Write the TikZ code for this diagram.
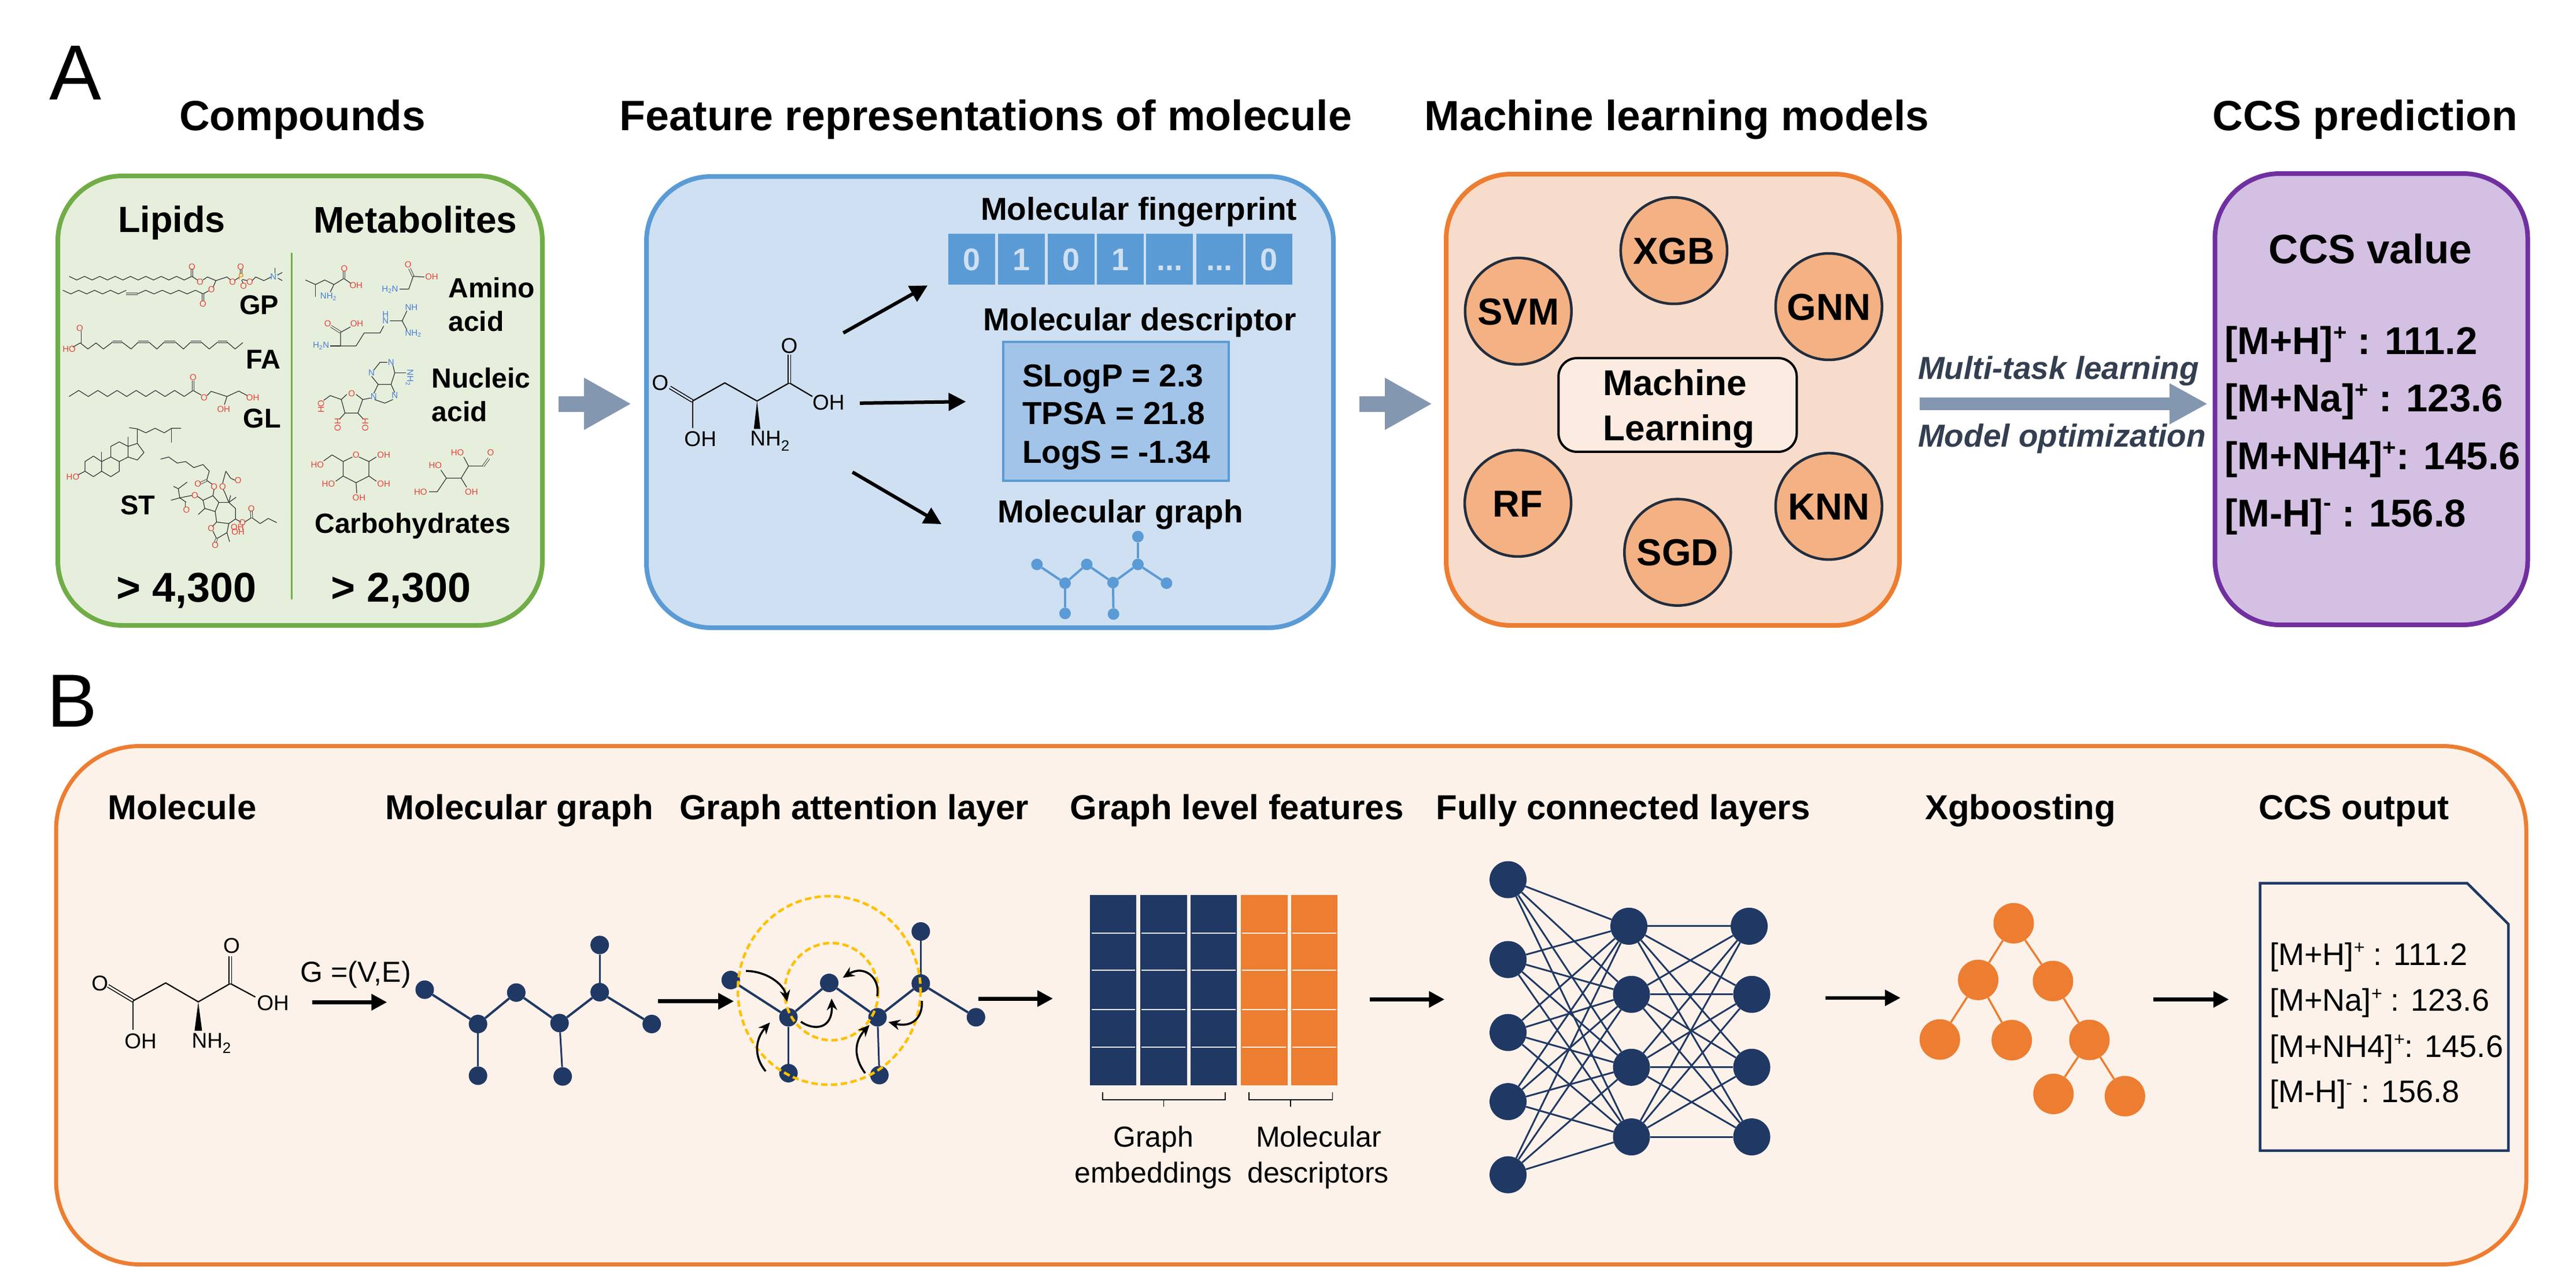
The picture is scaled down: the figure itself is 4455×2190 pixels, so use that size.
\documentclass[tikz,border=0pt]{standalone}
\usepackage{fontspec}
\usepackage{graphicx}
\usetikzlibrary{arrows.meta}
\setmainfont{Liberation Sans}
\definecolor{grnbg}{HTML}{E5EFDC}\definecolor{grnln}{HTML}{70AD47}
\definecolor{blubg}{HTML}{CFE0F2}\definecolor{bluln}{HTML}{5B9BD5}\definecolor{descbg}{HTML}{A2C4E8}
\definecolor{orgbg}{HTML}{F8DCCB}\definecolor{orgln}{HTML}{ED7D31}\definecolor{cirbg}{HTML}{F4B183}\definecolor{cirln}{HTML}{222E3E}
\definecolor{purbg}{HTML}{D3C0E3}\definecolor{purln}{HTML}{7030A0}
\definecolor{pbbg}{HTML}{FCF2E9}\definecolor{grey}{HTML}{8497B0}\definecolor{navy}{HTML}{203864}
\definecolor{dktxt}{HTML}{333F50}\definecolor{yel}{HTML}{FFC000}
\definecolor{atr}{HTML}{E8403A}\definecolor{atb}{HTML}{4A7BD8}\definecolor{bond}{HTML}{333333}\definecolor{boxbg}{HTML}{FBEBE1}
\newcommand\lab[6]{\node[inner sep=0pt,text height={0.716*#4*1pt},text depth=0pt,font=\fontsize{#4}{#4}\selectfont,#5] (#1) at (#2,#3) {#6};}
\newcommand\blab[6]{\lab{#1}{#2}{#3}{#4}{#5}{\bfseries #6}}
\newcommand\up[1]{\raisebox{.36em}{\scalebox{.6}{#1}}}
\newcommand\upm[1]{\raisebox{.42em}{\scalebox{.6}{#1}}}
\newcommand\fpdots{...}
\newcounter{atm}
\newcommand\atmfont{\fontsize{15}{15}\selectfont}
\newcommand\atm[4][]{\stepcounter{atm}\node[inner sep=0pt,font=\atmfont,text=#3,#1] (atom\theatm) at (#2) {#4};}
\newcommand\zig[5]{\draw[mol] (#1,#2) \foreach \i in {1,...,#3}{ -- ++(#4,{(#5)*(2*mod(\i,2)-1)}) };}
\tikzset{
 panel/.style n args={2}{draw=#1,fill=#2,line width=8pt,rounded corners=112pt,inner sep=0pt,outer sep=0pt},
 mol/.style={draw=bond,line width=1.2pt,line join=round},
 mold/.style={mol,double=grnbg,double distance=2.4pt,line width=.9pt},
 bigmol/.style={draw=black,line width=2.2pt,line join=round},
 bigdbl/.style={draw=black,double=blubg,double distance=3pt,line width=1.6pt},
 blockarr/.style={draw=grey,line width=27pt,-{Triangle[length=82pt,width=84pt]}},
 arr/.style={draw=black,line width=6pt,-{Triangle[length=30pt,width=30pt]}},
 arrb/.style={draw=black,line width=7pt,-{Triangle[length=27pt,width=27pt]}},
 fpbox/.style={fill=bluln,minimum width=81pt,minimum height=88pt,inner sep=0pt,text=blubg,text height=39pt,text depth=0pt,font=\fontsize{54}{54}\selectfont\bfseries},
 mlc/.style={circle,draw=cirln,fill=cirbg,line width=4.5pt,minimum size=184pt,inner sep=0pt,text height=46.5pt,text depth=0pt,font=\fontsize{65}{65}\selectfont\bfseries},
 vtxb/.style={circle,fill=bluln,minimum size=20pt,inner sep=0pt},
 edgeb/.style={draw=bluln,line width=4pt},
 vtx/.style={circle,fill=navy,minimum size=32pt,inner sep=0pt},
 edgen/.style={draw=navy,line width=4pt},
 nn/.style={circle,fill=navy,minimum size=64pt,inner sep=0pt},
 nne/.style={draw=navy,line width=3pt},
 tre/.style={circle,fill=orgln,minimum size=70pt,inner sep=0pt},
 tree/.style={draw=orgln,line width=3.5pt},
 yc/.style={draw=yel,line width=4.5pt,dash pattern=on 11pt off 6pt},
 cur/.style={draw=black,line width=3.5pt,-{Stealth[length=20pt,width=18pt]}},
}
\begin{document}
\begin{tikzpicture}[x=1pt,y=-1pt]
\useasboundingbox (0,0) rectangle (4455,2190);
% titles
\lab{tA}{131}{124}{135}{}{A}
\lab{tB}{125}{1210}{130}{}{B}
\blab{h1}{523}{199}{73}{}{Compounds}
\blab{h2}{1705}{199}{73.5}{}{Feature representations of molecule}
\blab{h3}{2900}{199}{73}{}{Machine learning models}
\blab{h4}{4090}{199}{73}{}{CCS prediction}
% panels
\node[panel={grnln}{grnbg},minimum width=838pt,minimum height=777pt] (green) at (519,692.5) {};
\node[panel={bluln}{blubg},minimum width=1188pt,minimum height=780pt] (blue) at (1712,695) {};
\node[panel={orgln}{orgbg},minimum width=784pt,minimum height=780pt] (ml) at (2893,691) {};
\node[panel={purln}{purbg},minimum width=541pt,minimum height=780pt] (pur) at (4101,690) {};
\node[panel={orgln}{pbbg},line width=7pt,rounded corners=145pt,minimum width=4272pt,minimum height=896pt,anchor=east] (pb) at (4369,1737.5) {};
% block arrows
\coordinate (ba1s) at (966,698); \coordinate (ba1e) at (1092,698);
\coordinate (ba2s) at (2351,698); \coordinate (ba2e) at (2477,698);
\draw[blockarr] (ba1s) -- (ba1e);
\draw[blockarr] (ba2s) -- (ba2e);
\coordinate (ba3s) at (3320,698); \coordinate (ba3e) at (3818,698);
\draw[draw=grey,line width=22pt,-{Triangle[length=66pt,width=66pt]}] (ba3s) -- (ba3e);
\node[inner sep=0pt,text height=39.4pt,text depth=0pt,text=dktxt,font=\fontsize{55}{55}\selectfont\bfseries\itshape] (mtl) at (3560,636) {Multi-task learning};
\node[inner sep=0pt,text height=39.4pt,text depth=0pt,text=dktxt,font=\fontsize{55}{55}\selectfont\bfseries\itshape] (mop) at (3566,753) {Model optimization};
% ---------- green
\begin{scope}[shift={(80,280)},x=0.6378pt,y=-0.523pt]
\blab{lip}{340}{190}{63}{}{Lipids}
\blab{met}{1001}{190}{64}{}{Metabolites}
\draw[draw=grnln,line width=3pt] (666,300) -- (666,1445);
\blab{gp}{577}{472}{47}{}{GP}
\blab{fa}{588}{652}{47}{}{FA}
\blab{gl}{585}{847}{47}{}{GL}
\blab{st}{248}{1133}{47}{}{ST}
\blab{am1}{1090}{415}{48}{anchor=west}{Amino}
\blab{am2}{1090}{527}{48}{anchor=west}{acid}
\blab{nu1}{1045}{714}{48}{anchor=west}{Nucleic}
\blab{nu2}{1045}{825}{48}{anchor=west}{acid}
\blab{car}{994}{1193}{48}{}{Carbohydrates}
\blab{n1}{380}{1405}{72}{}{> 4,300}
\blab{n2}{962}{1405}{72}{}{> 2,300}
% GP
\zig{62}{378}{16}{20.8}{12}
\draw[mold] (395,378) -- (395,352);
\draw[mol] (395,378) -- (410,390);
\draw[mol] (425,390) -- (437,380) -- (460,392) -- (490,380) -- (500,390);
\draw[mol] (510,392) -- (522,382);
\draw[mold] (528,370) -- (528,354);
\draw[mol] (531,388) -- (545,392);\draw[mol] (530,390) -- (534,402);
\draw[mol] (558,392) -- (568,380) -- (590,392) -- (610,380);
\draw[mol] (620,368) -- (620,350);\draw[mol] (628,373) -- (640,365);\draw[mol] (628,384) -- (640,392);
\draw[mol] (460,392) -- (452,415);
\zig{45}{424}{8}{21.5}{12}
\draw[mold] (217,436) -- (247,436);
\draw[mol] (247,436) \foreach \i in {1,...,7}{ -- ++(22.5,{12*(1-2*mod(\i,2))}) };
\draw[mol] (405,424) -- (425,436) -- (440,426);
\draw[mold] (425,436) -- (425,460);
\atm{395,346}{atr}{O}\atm{417,396}{atr}{O}\atm{505,396}{atr}{O}\atm{528,380}{orange}{P}\atm{527,346}{atr}{O}\atm{535,409}{atr}{O}\atm{552,396}{atr}{O}\atm{620,379}{atb}{N\up{+}}\atm{448,421}{atr}{O}\atm{425,469}{atr}{O}
% FA
\draw[mold] (92,598) -- (92,558);
\draw[mol] (72,612) -- (92,598) -- (113,618) -- (135,598) -- (155,618) -- (180,595);
\draw[mold] (180,595) -- (205,595);
\draw[mol] (205,595) -- (230,618) -- (250,595);\draw[mold] (250,595) -- (278,595);
\draw[mol] (278,595) -- (300,618) -- (320,595);\draw[mold] (320,595) -- (350,595);
\draw[mol] (350,595) -- (372,618) -- (392,595);\draw[mold] (392,595) -- (420,595);
\draw[mol] (420,595) -- (442,618) -- (465,595);\draw[mold] (465,595) -- (490,595);
\draw[mol] (490,595) -- (512,618) -- (533,597);
\atm{91,549}{atr}{O}\atm{62,618}{atr}{HO}
% GL
\zig{62}{775}{12}{26}{-20}
\draw[mol] (374,775) -- (398,755) -- (420,770);
\draw[mold] (398,755) -- (398,722);
\draw[mol] (436,772) -- (447,758) -- (490,775) -- (522,757) -- (545,772);
\draw[mol] (490,775) -- (483,802);
\atm{398,712}{atr}{O}\atm{428,778}{atr}{O}\atm{560,778}{atr}{OH}\atm{481,818}{atr}{OH}
% cholesterol
\draw[mol] (105,990) -- (128,972) -- (150,990) -- (150,1022) -- (128,1040) -- (105,1022) -- cycle;
\draw[mol] (150,990) -- (175,975) -- (198,990) -- (198,1022) -- (175,1040) -- (150,1022);
\draw[mol] (175,975) -- (175,940) -- (198,925) -- (222,940) -- (222,975) -- (198,990);
\draw[mol] (222,940) -- (247,930) -- (265,960) -- (247,985) -- (222,975);
\draw[mol] (150,990) -- (150,958);\draw[mol] (222,940) -- (222,908);
\draw[mol] (247,930) -- (247,882) -- (225,878);
\draw[mol] (247,882) -- (270,895) -- (295,880) -- (320,895) -- (340,880) -- (365,880);\draw[mol] (340,880) -- (340,928);
\draw[mol] (85,1035) -- (105,1022);
\atm{72,1041}{atr}{HO}
% large molecule
\draw[mol] (310,982) -- (332,975) -- (355,995) -- (378,990) -- (400,1010) -- (425,1000) -- (442,1022) -- (435,1052);
\draw[mold] (435,1052) -- (418,1062);
\draw[mol] (435,1052) -- (450,1065);\draw[mol] (455,1082) -- (452,1103);
\draw[mol] (425,1118) -- (452,1103) -- (468,1125) -- (458,1155) -- (430,1145) -- cycle;
\draw[mol] (430,1145) -- (412,1165);\draw[mol] (425,1118) -- (410,1105);
\draw[mol] (395,1102) -- (362,1110) -- (358,1080) -- (382,1058);\draw[mol] (358,1080) -- (345,1072);
\draw[mol] (362,1110) -- (338,1118);\draw[mol] (362,1110) -- (380,1125);\draw[mold] (380,1125) -- (380,1142);
\draw[mol] (468,1125) -- (495,1125) -- (513,1145) -- (513,1180) -- (495,1195) -- (462,1190) -- (458,1155);
\draw[mol] (495,1125) -- (485,1095) -- (480,1082);\draw[mol] (478,1062) -- (487,1022) -- (500,1045) -- (512,1052);
\draw[mol] (495,1125) -- (515,1108);\draw[mol] (495,1125) -- (500,1102);
\draw[mol] (513,1180) -- (528,1190);\draw[mol] (538,1190) -- (557,1175) -- (580,1195) -- (602,1178) -- (625,1192);
\draw[mold] (557,1175) -- (556,1152);
\draw[mol] (462,1190) -- (450,1205);\draw[mol] (495,1195) -- (490,1225) -- (462,1245) -- (452,1220);\draw[mol] (490,1225) -- (497,1255);
\draw[mold] (462,1245) -- (458,1258);
\atm{411,1063}{atr}{O}\atm{455,1073}{atr}{O}\atm{478,1073}{atr}{O}\atm{520,1052}{atr}{O}\atm{403,1102}{atr}{O}\atm{380,1150}{atr}{O}\atm{532,1192}{atr}{O}\atm{556,1145}{atr}{O}\atm{447,1210}{atr}{O}\atm{458,1266}{atr}{O}\atm{518,1208}{atr}{OH}\atm{520,1222}{atr}{OH}
% leucine
\draw[mol] (703,390) -- (730,405) -- (755,390) -- (780,405) -- (807,385) -- (827,402);
\draw[mol] (730,405) -- (730,445);\draw[mold] (807,385) -- (807,362);\draw[mol] (780,405) -- (770,430);
\atm{808,352}{atr}{O}\atm{840,407}{atr}{OH}\atm{765,445}{atb}{NH\textsubscript{2}}
% glycine
\draw[mold] (995,378) -- (985,352);
\draw[mol] (1025,380) -- (995,378) -- (983,420) -- (958,420);
\atm{981,340}{atr}{O}\atm{1045,380}{atr}{OH}\atm{932,421}{atb}{H\textsubscript{2}N}
% arginine
\draw[mold] (798,563) -- (772,543);
\draw[mol] (825,545) -- (798,563) -- (798,608) -- (840,608) -- (862,565) -- (905,565) -- (915,542);
\draw[mol] (770,608) -- (798,608);\draw[mol] (932,525) -- (965,525) -- (978,492);\draw[mol] (965,525) -- (978,555);
\atm{763,535}{atr}{O}\atm{842,535}{atr}{OH}\atm{745,608}{atb}{H\textsubscript{2}N}\atm{920,503}{atb}{H}\atm{920,525}{atb}{N}\atm{990,481}{atb}{NH}\atm{995,567}{atb}{NH\textsubscript{2}}
% adenosine
\draw[mol] (882,708) -- (900,735) -- (935,735) -- (945,697) -- (940,672);\draw[mol] (925,662) -- (905,662) -- (888,688);
\draw[mol] (900,735) -- (888,765);\draw[mol] (935,735) -- (945,762);\draw[mol] (890,785) -- (918,797) -- (940,785);
\draw[mol] (945,697) -- (975,697);\draw[mol] (880,780) -- (858,785);
\draw[mol] (815,768) -- (800,785) -- (810,830) -- (845,830) -- (858,785) -- (840,768);
\draw[mol] (800,785) -- (770,772) -- (752,788);\draw[mol] (810,830) -- (795,850);\draw[mol] (845,830) -- (860,850);
\atm{882,697}{atb}{N}\atm{935,662}{atb}{N}\atm{888,775}{atb}{N}\atm{945,772}{atb}{N}\atm[rotate=270]{985,712}{atb}{NH\textsubscript{2}}\atm{828,765}{atr}{O}\atm[rotate=90]{745,808}{atr}{HO}\atm[rotate=90]{790,868}{atr}{OH}\atm[rotate=90]{865,868}{atr}{OH}
% glucose
\draw[mol] (848,975) -- (875,990) -- (875,1038) -- (840,1060) -- (805,1038) -- (805,990) -- (830,975);
\draw[mol] (805,990) -- (775,968) -- (752,988);\draw[mol] (875,990) -- (895,975);\draw[mol] (875,1038) -- (895,1055);\draw[mol] (840,1060) -- (842,1095);\draw[mol] (805,1038) -- (785,1055);
\atm{840,968}{atr}{O}\atm{915,968}{atr}{OH}\atm{915,1063}{atr}{OH}\atm{848,1110}{atr}{OH}\atm{765,1063}{atr}{HO}\atm{735,1000}{atr}{HO}
% ribose
\draw[mol] (1038,1090) -- (1060,1090) -- (1085,1045) -- (1125,1045) -- (1145,1005) -- (1185,1005);
\draw[mold] (1185,1005) -- (1200,980);
\draw[mol] (1145,1005) -- (1132,975);\draw[mol] (1085,1045) -- (1070,1018);\draw[mol] (1125,1045) -- (1140,1075);
\atm{1205,960}{atr}{O}\atm{1115,960}{atr}{HO}\atm{1055,1003}{atr}{HO}\atm{1015,1090}{atr}{HO}\atm{1153,1090}{atr}{OH}
\end{scope}
% ---------- blue
\begin{scope}[shift={(1090,280)},x=0.7974pt,y=-0.523pt]
\blab{bt1}{1103}{155}{55}{}{Molecular fingerprint}
\blab{bt2}{1105}{520}{55}{}{Molecular descriptor}
\blab{bt3}{1063}{1155}{55}{}{Molecular graph}
\foreach \k/\x/\t in {1/741/0,2/848.5/1,3/956/0,4/1063/1,5/1170/\fpdots,6/1278/\fpdots,7/1385/0}
  \node[fpbox] (fp\k) at (\x,321) {\t};
\node[draw=bluln,fill=descbg,line width=4pt,minimum width=390pt,minimum height=240pt,inner sep=0pt] (desc) at (1054,825) {};
\blab{d1}{850}{705}{55}{anchor=west}{SLogP = 2.3}
\blab{d2}{850}{830}{55}{anchor=west}{TPSA = 21.8}
\blab{d3}{850}{958}{55}{anchor=west}{LogS = -1.34}
\coordinate (m1s) at (462,565);\coordinate (m1e) at (645,408);
\coordinate (m2s) at (498,797);\coordinate (m2e) at (728,792);
\coordinate (m3s) at (482,1025);\coordinate (m3e) at (675,1197);
\draw[arr] (m1s) -- (m1e);\draw[arr] (m2s) -- (m2e);\draw[arr] (m3s) -- (m3e);
\foreach \n/\p in {a/{882,1330},b/{943,1392},c/{990,1330},d/{1047,1390},e/{1101,1330},f/{1101,1238},g/{1163,1392},h/{943,1492},i/{1048,1494}}
  \node[vtxb] (mg\n) at (\p) {};
\foreach \u/\v in {a/b,b/c,c/d,d/e,e/f,e/g,b/h,d/i}
  \draw[edgeb] (mg\u) -- (mg\v);
\renewcommand\atmfont{\fontsize{37}{37}\selectfont}
\draw[bigdbl] (135,790) -- (86,745);
\draw[bigmol] (135,790) -- (135,880);
\draw[bigmol] (135,790) -- (205,730) -- (275,790) -- (345,730) -- (395,775);
\draw[bigdbl] (345,730) -- (345,636);
\fill[black] (275,790) -- (268,882) -- (282,882) -- cycle;
\atm{65,730}{black}{O}\atm{345,607}{black}{O}\atm{430,795}{black}{OH}\atm{152,915}{black}{OH}\atm{303,922}{black}{NH\textsubscript{2}}
\end{scope}
% ---------- ML
\begin{scope}[shift={(2340,280)},x=0.6378pt,y=-0.523pt]
\node[mlc] (xgb) at (870,293) {XGB};
\node[mlc] (svm) at (448,493) {SVM};
\node[mlc] (gnn) at (1290,478) {GNN};
\node[mlc] (rf) at (447,1128) {RF};
\node[mlc] (sgd) at (880,1290) {SGD};
\node[mlc] (knn) at (1290,1138) {KNN};
\node[draw=black,fill=boxbg,line width=4pt,rounded corners=32pt,minimum width=412pt,minimum height=162pt,inner sep=0pt] (mlbox) at (880,803) {};
\blab{ml1}{678}{730}{62}{anchor=west}{Machine}
\blab{ml2}{678}{878}{62}{anchor=west}{Learning}
\end{scope}
% ---------- CCS value
\begin{scope}[shift={(3250,280)},x=0.7653pt,y=-0.523pt]
\blab{cv}{1110}{287}{71}{}{CCS value}
\blab{i1}{780}{590}{67}{anchor=west}{[M+H]\up{+} : 111.2}
\blab{i2}{780}{780}{67}{anchor=west}{[M+Na]\up{+} : 123.6}
\blab{i3}{780}{970}{67}{anchor=west}{[M+NH4]\up{+}: 145.6}
\blab{i4}{780}{1160}{67}{anchor=west}{[M-H]\upm{-} : 156.8}
\end{scope}
% ---------- panel B headers
\blab{ph1}{315}{1395}{60}{}{Molecule}
\blab{ph2}{898}{1395}{60}{}{Molecular graph}
\blab{ph3}{1477}{1395}{60}{}{Graph attention layer}
\blab{ph4}{2139}{1395}{60}{}{Graph level features}
\blab{ph5}{2807}{1395}{60}{}{Fully connected layers}
\blab{ph6}{3494}{1395}{60}{}{Xgboosting}
\blab{ph7}{4071}{1395}{60}{}{CCS output}
% ---------- panel B molecule & graphs
\begin{scope}[shift={(100,1500)},x=1.0846pt,y=-0.3333pt]
\renewcommand\atmfont{\fontsize{37}{37}\selectfont}
\tikzset{bigdbl/.style={draw=black,double=pbbg,double distance=3pt,line width=1.6pt}}
\draw[bigdbl] (120,690) -- (80,612);
\draw[bigmol] (120,690) -- (120,840);
\draw[bigmol] (120,690) -- (172,597) -- (224,695) -- (275,600) -- (315,670);
\draw[bigdbl] (275,600) -- (275,458);
\fill[black] (224,695) -- (218,845) -- (230,845) -- cycle;
\atm{67,600}{black}{O}\atm{277,403}{black}{O}\atm{343,700}{black}{OH}\atm{132,900}{black}{OH}\atm{245,910}{black}{NH\textsubscript{2}}
\lab{gve}{475}{540}{50}{}{G =(V,E)}
\coordinate (b1s) at (406,697);\coordinate (b1e) at (525,697);
\draw[arrb] (b1s) -- (b1e);
\foreach \n/\p in {a/{585,632},b/{670,810},c/{731,647},d/{800,805},e/{864,645},f/{864,400},g/{947,810},h/{670,1078},i/{805,1082}}
  \node[vtx] (ga\n) at (\p) {};
\foreach \u/\v in {a/b,b/c,c/d,d/e,e/g}
  \draw[edgen] (ga\u) -- (ga\v);
\foreach \u/\v in {e/f,b/h,d/i}
  \draw[edgen,line width=3pt] (ga\u) -- (ga\v);
\coordinate (b2s) at (957,692);\coordinate (b2e) at (1078,692);
\draw[arrb] (b2s) -- (b2e);
\foreach \n/\p in {a/{1073,582},b/{1165,775},c/{1230,597},d/{1307,775},e/{1376,600},f/{1376,330},g/{1464,775},h/{1165,1065},i/{1310,1075}}
  \node[vtx] (gb\n) at (\p) {};
\foreach \u/\v in {a/b,b/c,c/d,d/e,e/g}
  \draw[edgen] (gb\u) -- (gb\v);
\foreach \u/\v in {e/f,b/h,d/i}
  \draw[edgen,line width=3pt] (gb\u) -- (gb\v);
\end{scope}
\draw[yc] (1434,1712) ellipse [x radius=158,y radius=163];
\draw[yc] (1438,1714) ellipse [x radius=81,y radius=84];
\begin{scope}[shift={(1150,1600)},x=0.4146pt,y=-0.3333pt]
\coordinate (c1s) at (338,235);\coordinate (c1e) at (510,395);
\coordinate (c2s) at (885,365);\coordinate (c2e) at (742,270);
\coordinate (c3s) at (567,498);\coordinate (c3e) at (695,378);
\coordinate (c4s) at (420,755);\coordinate (c4e) at (438,502);
\coordinate (c5s) at (835,765);\coordinate (c5e) at (853,515);
\coordinate (c6s) at (1072,390);\coordinate (c6e) at (932,500);
\draw[cur] (c1s) .. controls (420,235) and (495,300) .. (c1e);
\draw[cur] (c2s) .. controls (900,270) and (830,200) .. (c2e);
\draw[cur] (c3s) .. controls (620,545) and (700,540) .. (c3e);
\draw[cur] (c4s) .. controls (370,680) and (375,590) .. (c4e);
\draw[cur] (c5s) .. controls (785,680) and (790,600) .. (c5e);
\draw[cur] (c6s) .. controls (1075,480) and (1030,530) .. (c6e);
\end{scope}
\coordinate (b3s) at (1692,1726);\coordinate (b3e) at (1821,1726);
\draw[arrb] (b3s) -- (b3e);
% ---------- panel B matrix + NN
\begin{scope}[shift={(1800,1450)},x=0.8929pt,y=-0.4147pt]
\foreach \xa/\xb in {95/185,193/283,290/380} \fill[navy] (\xa,235) rectangle (\xb,1028);
\foreach \xa/\xb in {388/478,485/575} \fill[orgln] (\xa,235) rectangle (\xb,1028);
\foreach \xa/\xb in {98/183,195/280,292/377,390/475,487/572}
  \foreach \y in {393,548,712,868} \draw[white,line width=2pt] (\xa,\y) -- (\xb,\y);
\draw[black,line width=1.6pt] (120,1055) -- (120,1087) -- (357,1087) -- (357,1055);
\draw[black,line width=1.6pt] (238,1087) -- (238,1117);
\draw[black,line width=1.6pt] (403,1055) -- (403,1087) -- (565,1087) -- (565,1055);
\draw[black,line width=1.6pt] (484,1087) -- (484,1117);
\lab{ge1}{218}{1240}{50}{}{Graph}
\lab{ge2}{218}{1390}{50}{}{embeddings}
\lab{md1}{538}{1240}{50}{}{Molecular}
\lab{md2}{537}{1390}{50}{}{descriptors}
\coordinate (b4s) at (637,669);\coordinate (b4e) at (782,669);
\draw[arrb] (b4s) -- (b4e);
\foreach \n/\y in {1/170,2/503,3/807,4/1095,5/1400} \node[nn] (na\n) at (905,\y) {};
\foreach \n/\x/\y in {1/1139/364,2/1144/648,3/1144/952,4/1144/1242} \node[nn] (nb\n) at (\x,\y) {};
\foreach \n/\x/\y in {1/1372/364,2/1377/648,3/1377/952,4/1377/1242} \node[nn] (nc\n) at (\x,\y) {};
\foreach \a in {1,...,5} \foreach \b in {1,...,4} \draw[nne] (na\a) -- (nb\b);
\foreach \a in {1,...,4} \foreach \b in {1,...,4} \draw[nne] (nb\a) -- (nc\b);
\end{scope}
% ---------- tree + doc
\begin{scope}[shift={(3150,1450)},x=0.8291pt,y=-0.3827pt]
\coordinate (b5s) at (8,718);\coordinate (b5e) at (165,718);
\draw[arrb,line width=6pt] (b5s) -- (b5e);
\foreach \n/\p in {a/{401,381},b/{327,637},c/{483,642},d/{247,906},e/{397,909},f/{559,908},g/{484,1152},h/{633,1162}}
  \node[tre] (tr\n) at (\p) {};
\foreach \u/\v in {a/b,a/c,b/d,b/e,c/f,f/g,f/h}
  \draw[tree] (tr\u) -- (tr\v);
\coordinate (b6s) at (692,725);\coordinate (b6e) at (850,725);
\draw[arrb] (b6s) -- (b6e);
\draw[draw=navy,line width=4.5pt,line join=miter] (915,200) -- (1347,200) -- (1433,385) -- (1433,1408) -- (915,1408) -- cycle;
\lab{o1}{935}{520}{54}{anchor=west}{[M+H]\up{+} : 111.2}
\lab{o2}{935}{727}{54}{anchor=west}{[M+Na]\up{+} : 123.6}
\lab{o3}{935}{935}{54}{anchor=west}{[M+NH4]\up{+}: 145.6}
\lab{o4}{935}{1140}{54}{anchor=west}{[M-H]\upm{-} : 156.8}
\end{scope}
\end{tikzpicture}
\end{document}
